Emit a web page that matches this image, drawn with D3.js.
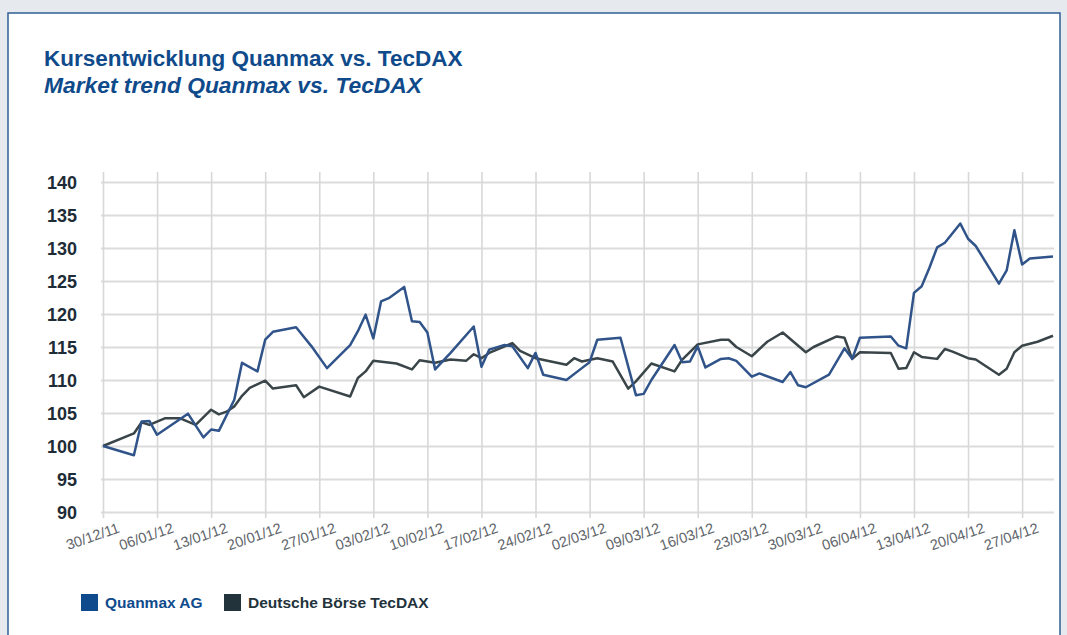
<!DOCTYPE html>
<html>
<head>
<meta charset="utf-8">
<script src="https://cdn.jsdelivr.net/npm/d3@7"></script>
<style>
  html, body { margin: 0; padding: 0; background: #e6eaee; }
  svg { display: block; }
</style>
</head>
<body>
<svg id="chart" width="1067" height="635"></svg>
<script>
// ---- Data ----
const titleLines = ["Kursentwicklung Quanmax vs. TecDAX", "Market trend Quanmax vs. TecDAX"];
const seriesNames = ["Quanmax AG", "Deutsche Börse TecDAX"];

const quanmaxDates = ["2011-12-30","2012-01-03","2012-01-04","2012-01-05","2012-01-06","2012-01-10","2012-01-12","2012-01-13","2012-01-14","2012-01-16","2012-01-17","2012-01-19","2012-01-20","2012-01-21","2012-01-24","2012-01-26","2012-01-28","2012-01-31","2012-02-01","2012-02-02","2012-02-03","2012-02-04","2012-02-05","2012-02-07","2012-02-08","2012-02-09","2012-02-10","2012-02-11","2012-02-13","2012-02-16","2012-02-17","2012-02-18","2012-02-20","2012-02-21","2012-02-23","2012-02-24","2012-02-25","2012-02-28","2012-03-01","2012-03-02","2012-03-03","2012-03-06","2012-03-08","2012-03-09","2012-03-10","2012-03-13","2012-03-14","2012-03-15","2012-03-16","2012-03-17","2012-03-19","2012-03-20","2012-03-21","2012-03-23","2012-03-24","2012-03-27","2012-03-28","2012-03-29","2012-03-30","2012-04-02","2012-04-04","2012-04-05","2012-04-06","2012-04-10","2012-04-11","2012-04-12","2012-04-13","2012-04-14","2012-04-15","2012-04-16","2012-04-17","2012-04-19","2012-04-20","2012-04-21","2012-04-24","2012-04-25","2012-04-26","2012-04-27","2012-04-28","2012-05-01"];
const quanmaxValues = [100,98.6,103.7,103.8,101.7,104.9,101.3,102.5,102.3,107.0,112.6,111.3,116.1,117.3,118.0,115.1,111.8,115.3,117.4,119.9,116.3,121.9,122.4,124.1,118.9,118.8,117.2,111.6,114.1,118.1,112.0,114.6,115.3,115.1,111.8,114.1,110.8,110.0,111.8,112.7,116.1,116.4,107.7,107.9,110.0,115.3,112.7,112.8,115.1,111.9,113.2,113.3,112.9,110.5,111.0,109.7,111.2,109.2,108.9,110.8,114.8,113.2,116.4,116.6,115.2,114.8,123.2,124.2,127.0,130.1,130.8,133.7,131.4,130.3,124.6,126.6,132.7,127.5,128.4,128.7];

const tecdaxDates = ["2011-12-30","2012-01-03","2012-01-04","2012-01-05","2012-01-07","2012-01-09","2012-01-11","2012-01-13","2012-01-14","2012-01-15","2012-01-16","2012-01-17","2012-01-18","2012-01-20","2012-01-21","2012-01-24","2012-01-25","2012-01-27","2012-01-31","2012-02-01","2012-02-02","2012-02-03","2012-02-06","2012-02-08","2012-02-09","2012-02-11","2012-02-13","2012-02-15","2012-02-16","2012-02-17","2012-02-18","2012-02-21","2012-02-22","2012-02-24","2012-02-28","2012-02-29","2012-03-01","2012-03-03","2012-03-05","2012-03-07","2012-03-08","2012-03-10","2012-03-13","2012-03-14","2012-03-16","2012-03-19","2012-03-20","2012-03-21","2012-03-23","2012-03-25","2012-03-27","2012-03-30","2012-03-31","2012-04-03","2012-04-04","2012-04-05","2012-04-06","2012-04-10","2012-04-11","2012-04-12","2012-04-13","2012-04-14","2012-04-16","2012-04-17","2012-04-18","2012-04-20","2012-04-21","2012-04-24","2012-04-25","2012-04-26","2012-04-27","2012-04-29","2012-05-01"];
const tecdaxValues = [100,101.9,103.6,103.2,104.2,104.2,103.2,105.5,104.8,105.2,106.0,107.6,108.8,109.9,108.7,109.2,107.4,109.0,107.5,110.3,111.3,112.9,112.5,111.6,113.0,112.6,113.1,112.9,113.9,113.3,114.1,115.6,114.4,113.3,112.3,113.3,112.8,113.3,112.8,108.7,109.8,112.5,111.3,113.1,115.4,116.1,116.1,115.0,113.6,115.8,117.2,114.2,115.0,116.6,116.4,113.2,114.2,114.1,111.7,111.8,114.2,113.5,113.2,114.7,114.3,113.3,113.1,110.8,111.7,114.2,115.2,115.8,116.7];

const yTicks = [90,95,100,105,110,115,120,125,130,135,140];
const xTickLabels = ["30/12/11","06/01/12","13/01/12","20/01/12","27/01/12","03/02/12","10/02/12","17/02/12","24/02/12","02/03/12","09/03/12","16/03/12","23/03/12","30/03/12","06/04/12","13/04/12","20/04/12","27/04/12"];

// ---- Setup ----
const parse = d3.timeParse("%Y-%m-%d");
const parseLbl = d3.timeParse("%d/%m/%y");
const fmtLbl = d3.timeFormat("%d/%m/%y");
const svg = d3.select("#chart");
const FONT = "Liberation Sans, Arial, sans-serif";

const colors = { quanmax: "#30548a", tecdax: "#3a4549", title: "#0f4a8b", legendQ: "#0e4a8c", legendT: "#23333c" };

// panel
svg.append("rect").attr("x", 8).attr("y", 13).attr("width", 1052).attr("height", 640)
  .attr("fill", "#ffffff").attr("stroke", "#2f5f94").attr("stroke-width", 1.5);

// title
svg.append("text").attr("x", 44).attr("y", 66).text(titleLines[0])
  .attr("font-family", FONT).attr("font-weight", "bold")
  .attr("font-size", 22.5).attr("fill", colors.title);
svg.append("text").attr("x", 44).attr("y", 93).text(titleLines[1])
  .attr("font-family", FONT).attr("font-weight", "bold")
  .attr("font-style", "italic").attr("font-size", 22.8).attr("fill", colors.title);

const x = d3.scaleTime().domain([parse("2011-12-30"), parse("2012-05-01")]).range([103, 1053]);
const y = d3.scaleLinear().domain([90, 140]).range([512, 182]);

// horizontal grid + y labels
const yAxis = d3.axisLeft(y).tickValues(yTicks).tickSize(-(1054 - 101)).tickFormat(d3.format("d"));
const gy = svg.append("g").attr("transform", "translate(101,0)").call(yAxis);
gy.select(".domain").remove();
gy.selectAll(".tick line").attr("stroke", "#dcdcdc").attr("stroke-width", 1.8);
gy.selectAll(".tick text").attr("x", -24).attr("dy", "0.36em")
  .attr("font-family", FONT).attr("font-weight", "bold")
  .attr("font-size", 18).attr("fill", "#1e2c37");

// vertical grid + x labels
const xTickDates = xTickLabels.map(parseLbl);
const xAxis = d3.axisBottom(x).tickValues(xTickDates).tickSize(-(518 - 172)).tickFormat(fmtLbl);
const gx = svg.append("g").attr("transform", "translate(0,518)").call(xAxis);
gx.select(".domain").remove();
gx.selectAll(".tick line").attr("stroke", "#d8d8d8").attr("stroke-width", 1.6);
gx.selectAll(".tick text")
  .attr("text-anchor", "end").attr("y", 0).attr("dy", 0)
  .attr("transform", "translate(17,14) rotate(-19)")
  .attr("font-family", FONT)
  .attr("font-size", 14.5).attr("fill", "#5e6469");

// lines
const line = d3.line().x(d => x(d.date)).y(d => y(d.value));
const qData = quanmaxDates.map((d, i) => ({ date: parse(d), value: quanmaxValues[i] }));
const tData = tecdaxDates.map((d, i) => ({ date: parse(d), value: tecdaxValues[i] }));

svg.append("path").datum(tData).attr("d", line).attr("fill", "none")
  .attr("stroke", colors.tecdax).attr("stroke-width", 2.5).attr("stroke-linejoin", "round");
svg.append("path").datum(qData).attr("d", line).attr("fill", "none")
  .attr("stroke", colors.quanmax).attr("stroke-width", 2.5).attr("stroke-linejoin", "round");

// legend
const legend = [
  { name: seriesNames[0], color: colors.legendQ, text: colors.legendQ, x: 81 },
  { name: seriesNames[1], color: colors.legendT, text: colors.legendT, x: 224 }
];
legend.forEach(l => {
  svg.append("rect").attr("x", l.x).attr("y", 594).attr("width", 17).attr("height", 17).attr("fill", l.color);
  svg.append("text").attr("x", l.x + 24).attr("y", 608).text(l.name)
    .attr("font-family", FONT).attr("font-weight", "bold")
    .attr("font-size", 15.5).attr("fill", l.text);
});
</script>
</body>
</html>
